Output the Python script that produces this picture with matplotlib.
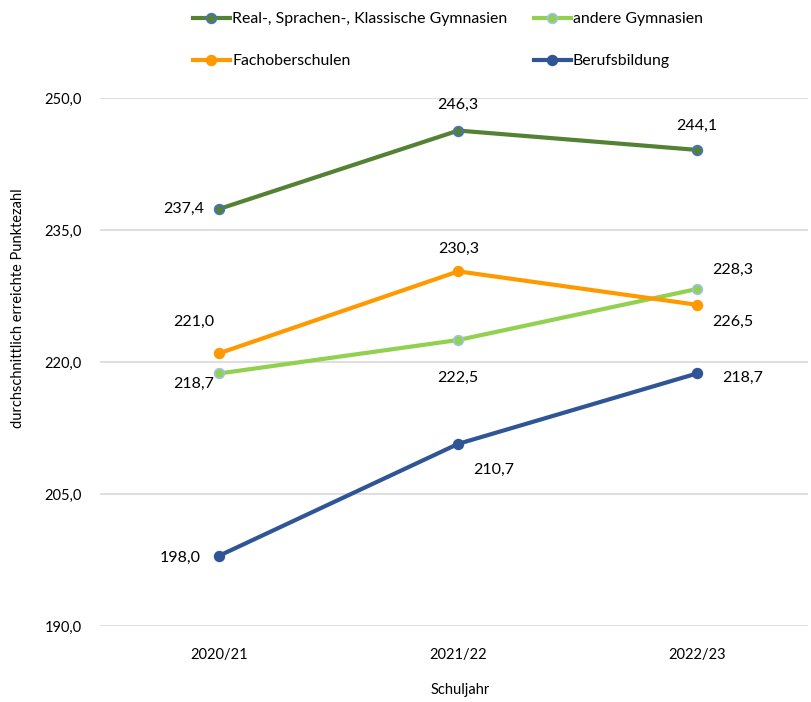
import matplotlib
matplotlib.use("Agg")
import matplotlib.pyplot as plt

plt.rcParams['font.family'] = ['Lato', 'DejaVu Sans']

years = ["2020/21", "2021/22", "2022/23"]
real_gym = [237.4, 246.3, 244.1]
andere_gym = [218.7, 222.5, 228.3]
fachober = [221.0, 230.3, 226.5]
berufsbildung = [198.0, 210.7, 218.7]
yticks = [190, 205, 220, 235, 250]

# series: values, label, line colour, marker edge colour, label offsets (px)
series = [
    (real_gym, "Real-, Sprachen-, Klassische Gymnasien", "#548235", "#4472C4",
     [(-36, 0), (0, 26), (0, 24)]),
    (andere_gym, "andere Gymnasien", "#92D050", "#9DC3E6",
     [(-26, -10), (0, -38), (36, 19)]),
    (fachober, "Fachoberschulen", "#FF9900", "#FF9900",
     [(-26, 31), (0, 22), (36, -17)]),
    (berufsbildung, "Berufsbildung", "#2F5597", "#2F5597",
     [(-39, -2), (35, -26), (46, -4)]),
]

fig = plt.figure(figsize=(8.11, 7.02), dpi=100)
ax = fig.add_axes([100 / 811, 76 / 702, 708 / 811, 528 / 702])

x = list(range(len(years)))
handles = []
for vals, label, col, edge, offs in series:
    h, = ax.plot(x, vals, color=col, lw=3, marker="o", ms=7,
                 mfc=col, mec=edge, mew=1.2, label=label, zorder=3)
    handles.append(h)
    for xi, v, (dx, dy) in zip(x, vals, offs):
        ax.annotate(f"{v:.1f}".replace(".", ","), (xi, v), xytext=(dx, dy),
                    textcoords="offset pixels", ha="center", va="center",
                    fontsize=11.5, color="#000000", zorder=4)

ax.set_xlim(-0.5, 2.5 - 8.5 / 239)
ax.set_ylim(190, 250)
ax.set_xticks(x)
ax.set_xticklabels(years, fontsize=10.5)
ax.set_yticks(yticks)
ax.set_yticklabels([f"{t},0" for t in yticks], fontsize=10.5)
ax.tick_params(axis="both", length=0, colors="#000000")
ax.tick_params(axis="y", pad=13)
ax.tick_params(axis="x", pad=16)
ax.grid(axis="y", color="#D9D9D9", lw=1.2)
ax.set_axisbelow(True)
for s in ax.spines.values():
    s.set_visible(False)

fig.text(460 / 811, 1 - 690 / 702, "Schuljahr", ha="center", va="center", fontsize=10.5)
fig.text(18 / 811, 1 - 308 / 702, "durchschnittlich erreichte Punktezahl",
         rotation=90, ha="center", va="center", fontsize=10.5)

# legend is filled row by row in the reference
order = [0, 2, 1, 3]
fig.legend(handles=[handles[i] for i in order], loc="upper left",
           bbox_to_anchor=(179 / 811, 1 + 2 / 702),
           ncol=2, frameon=False, fontsize=11.4, handlelength=2.3, handletextpad=0.15,
           labelspacing=1.75, columnspacing=1.7)

fig.savefig("out.png", dpi=100)
